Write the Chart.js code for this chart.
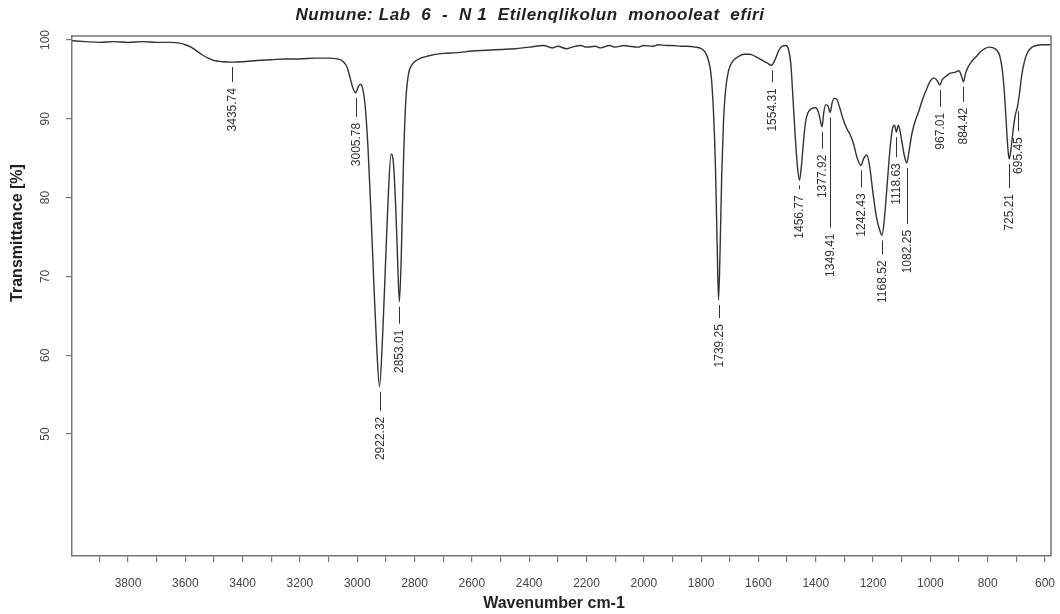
<!DOCTYPE html>
<html><head><meta charset="utf-8">
<script src="https://cdn.jsdelivr.net/npm/chart.js@4.4.1/dist/chart.umd.min.js"></script>
<style>html,body{margin:0;padding:0;background:#fff;overflow:hidden}#wrap{width:1060px;height:614px;position:relative}</style>
</head><body><div id="wrap"><canvas id="c" width="1060" height="614"></canvas></div>
<script>
const titleText = "Numune: Lab  6  -  N 1  Etilenqlikolun  monooleat  efiri";
const xAxisTitle = "Wavenumber cm-1";
const yAxisTitle = "Transmittance [%]";

const wavenumbers = [3995,3950,3900,3850,3800,3750,3700,3650,3620,3600,3580,3560,3540,3520,3500,3470,3435.74,3400,3350,3300,3250,3200,3150,3100,3070,3050,3035,3025,3015,3005.78,2997,2990,2982,2972,2962,2952,2942,2932,2922.32,2912,2902,2892,2882,2874,2866,2859,2853.01,2846,2839,2831,2822,2810,2790,2750,2700,2650,2600,2550,2500,2450,2400,2350,2320,2300,2270,2250,2220,2200,2170,2150,2120,2100,2070,2050,2020,2000,1970,1950,1920,1900,1870,1850,1820,1800,1785,1775,1765,1757,1750,1744,1739.25,1734,1728,1722,1715,1705,1690,1670,1650,1630,1610,1590,1570,1554.31,1542,1530,1518,1505,1495,1487,1480,1472,1464,1456.77,1450,1443,1436,1428,1415,1400,1392,1385,1377.92,1372,1365,1357,1349.41,1343,1335,1327,1317,1305,1292,1280,1268,1255,1242.43,1232,1222,1212,1200,1188,1176,1168.52,1160,1150,1140,1132,1125,1118.63,1112,1106,1098,1090,1082.25,1074,1064,1052,1040,1028,1015,1000,988,977,967.01,958,945,930,915,900,892,884.42,877,868,855,840,825,810,795,780,768,758,750,742,736,730,725.21,719,712,704,695.45,688,680,670,660,645,630,610,595,580];
const transmittance = [99.9,99.8,99.7,99.8,99.7,99.8,99.7,99.7,99.6,99.4,99.1,98.6,98.1,97.7,97.4,97.25,97.2,97.25,97.4,97.5,97.6,97.6,97.7,97.7,97.6,97.3,96.5,95.2,93.9,93.3,94.0,94.4,94.0,91.5,86,78,69,61,56.0,62,71,80,85.5,84.5,79,72,66.8,73,84,92,95.5,96.8,97.5,98.0,98.3,98.4,98.6,98.7,98.8,98.9,99.1,99.3,99.0,99.2,98.9,99.1,99.3,99.1,99.2,99.0,99.3,99.1,99.3,99.2,99.1,99.3,99.2,99.4,99.3,99.3,99.2,99.2,99.1,98.9,98.4,97.5,95.5,91,84,74,67.0,73,83,89.5,93.5,96,97.3,97.9,98.2,98.2,97.9,97.5,97.1,96.8,97.5,98.6,99.2,99.3,98.8,97,93,88,84,82.2,84,87,89.5,90.7,91.3,91.4,91.0,90.0,89.0,90.8,91.8,91.6,90.8,92.0,92.6,92.5,91.5,90.0,88.8,88,86.8,85.0,84.1,85.0,85.4,84,80.5,77.5,75.8,75.2,77.5,82,86.5,88.8,89.2,88.3,89.2,88.5,86.8,85.2,84.4,86,88.2,89.8,91,92.4,93.6,94.8,95.2,94.9,94.3,95.0,95.4,95.8,95.9,96.1,95.5,94.7,95.8,96.6,97.3,97.9,98.5,98.9,99.1,99.0,98.7,98.0,96.5,93.5,90,86.5,84.9,86,88.3,90.4,91.6,93.5,95.8,97.5,98.5,99.1,99.3,99.4,99.4,99.4];

const peakWavenumbers = [3435.74,3005.78,2922.32,2853.01,1739.25,1554.31,1456.77,1377.92,1349.41,1242.43,1168.52,1118.63,1082.25,967.01,884.42,725.21,695.45];
const peakLabels = ["3435.74","3005.78","2922.32","2853.01","1739.25","1554.31","1456.77","1377.92","1349.41","1242.43","1168.52","1118.63","1082.25","967.01","884.42","725.21","695.45"];

const xTickValues = [3900,3800,3700,3600,3500,3400,3300,3200,3100,3000,2900,2800,2700,2600,2500,2400,2300,2200,2100,2000,1900,1800,1700,1600,1500,1400,1300,1200,1100,1000,900,800,700,600];
const xTickLabels = ["","3800","","3600","","3400","","3200","","3000","","2800","","2600","","2400","","2200","","2000","","1800","","1600","","1400","","1200","","1000","","800","","600"];
const yTickValues = [50,60,70,80,90,100];
const yTickLabels = ["50","60","70","80","90","100"];

// layout (pixels) – kept apart from the data
const layout = {left:72, right:1051, top:36, bottom:556};
const labelOffsetPx = [26,30,30,28,24,23,15,28,121,28,25,31,67,28,26,35,31];

const ink = '#333';
const axisColor = '#777';

const frame = {
  id:'frame',
  afterDraw(chart){
    const {ctx, chartArea:a} = chart;
    ctx.save();
    ctx.strokeStyle = axisColor; ctx.lineWidth = 1.5;
    ctx.beginPath(); ctx.moveTo(a.left, a.top); ctx.lineTo(a.right, a.top); ctx.lineTo(a.right, a.bottom); ctx.stroke();
    ctx.fillStyle = '#222';
    ctx.textAlign = 'center'; ctx.textBaseline = 'middle';
    ctx.font = 'italic bold 17px "Liberation Sans", Arial, sans-serif';
    try { ctx.letterSpacing = '0.6px'; } catch(e) {}
    ctx.fillText(titleText, 530, 15);
    try { ctx.letterSpacing = '0px'; } catch(e) {}
    ctx.font = 'bold 16px "Liberation Sans", Arial, sans-serif';
    ctx.fillText(xAxisTitle, 554, 604);
    ctx.save(); ctx.translate(18, 233); ctx.rotate(-Math.PI/2);
    ctx.fillText(yAxisTitle, 0, 0); ctx.restore();
    ctx.restore();
  },
  afterDatasetsDraw(chart){
    const {ctx, scales:{x, y}} = chart;
    ctx.save();
    ctx.font = '12px "Liberation Sans", Arial, sans-serif';
    ctx.fillStyle = ink; ctx.strokeStyle = ink; ctx.lineWidth = 1;
    peakWavenumbers.forEach((w, i) => {
      const idx = wavenumbers.indexOf(w);
      const px = x.getPixelForValue(w), py = y.getPixelForValue(transmittance[idx]);
      const off = labelOffsetPx[i], g = 5, s = 6;
      ctx.save(); ctx.translate(Math.round(px)+0.5, py); ctx.rotate(-Math.PI/2);
      const leadEnd = Math.max(off - s, g + 4);
      ctx.beginPath(); ctx.moveTo(-g, 0); ctx.lineTo(-leadEnd, 0); ctx.stroke();
      ctx.textAlign = 'right'; ctx.textBaseline = 'middle';
      ctx.fillText(peakLabels[i], -off, 0);
      ctx.restore();
    });
    ctx.restore();
  }
};

new Chart(document.getElementById('c'), {
  type:'line',
  data:{ datasets:[{
    data: wavenumbers.map((w,i)=>({x:w, y:transmittance[i]})),
    borderColor:'#333', borderWidth:1.4, pointRadius:0, fill:false,
    cubicInterpolationMode:'monotone'
  }]},
  options:{
    responsive:false, animation:false, devicePixelRatio:1,
    layout:{padding:{top:layout.top, right:1060-layout.right, left:0, bottom:0}},
    plugins:{legend:{display:false}, tooltip:{enabled:false}, title:{display:false}},
    scales:{
      x:{ type:'linear', reverse:true, min:579, max:3995.4,
        afterFit(s){ s.height = 614 - layout.bottom; s.paddingLeft = 0; s.paddingRight = 0; },
        afterBuildTicks(s){ s.ticks = xTickValues.map(v=>({value:v})); },
        grid:{display:true, drawOnChartArea:false, drawTicks:true, tickLength:6, color:axisColor, lineWidth:1.2},
        border:{display:true, color:axisColor, width:1.5},
        ticks:{ autoSkip:false, maxRotation:0, minRotation:0, padding:14, color:'#444',
          font:{family:'"Liberation Sans", Arial, sans-serif', size:12},
          callback(v, i){ return xTickLabels[i]; } }
      },
      y:{ type:'linear', min:34.52, max:100.51,
        afterFit(s){ s.width = layout.left; s.paddingTop = 0; s.paddingBottom = 0; },
        afterBuildTicks(s){ s.ticks = yTickValues.map(v=>({value:v})); },
        grid:{display:true, drawOnChartArea:false, drawTicks:true, tickLength:6, color:axisColor, lineWidth:1.2},
        border:{display:true, color:axisColor, width:1.5},
        ticks:{ minRotation:90, maxRotation:90, crossAlign:'center', padding:10, color:'#444',
          font:{family:'"Liberation Sans", Arial, sans-serif', size:12},
          callback(v, i){ return yTickLabels[i]; } }
      }
    }
  },
  plugins:[frame]
});
</script>
</body></html>
